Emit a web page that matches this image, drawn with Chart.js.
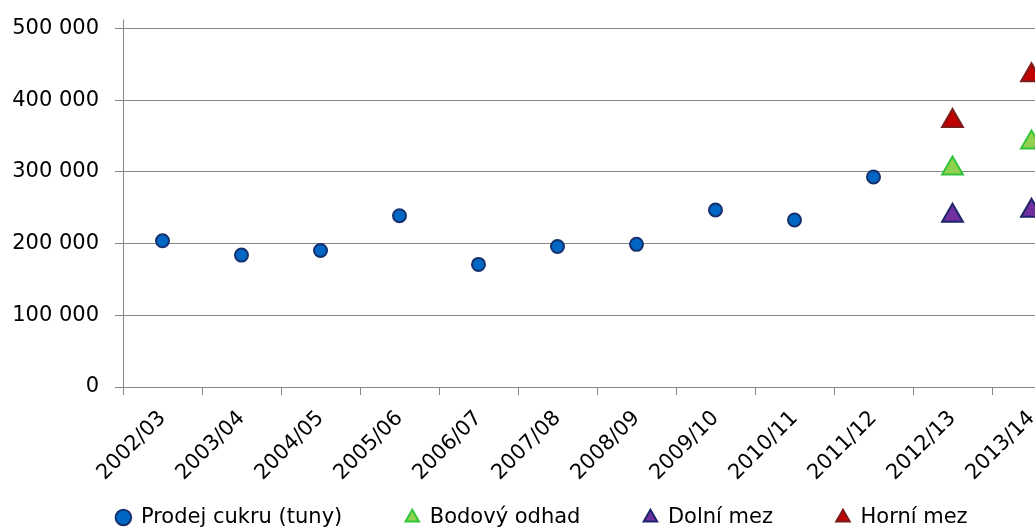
<!DOCTYPE html>
<html lang="cs">
<head>
<meta charset="utf-8">
<title>Prodej cukru</title>
<script src="https://cdn.jsdelivr.net/npm/chart.js@4.4.1/dist/chart.umd.min.js"></script>
<style>
  html, body { margin: 0; padding: 0; background: #fff; overflow: hidden; }
  #graf { display: block; }
</style>
</head>
<body>
<canvas id="graf" width="1087" height="538"></canvas>
<script>
// hospodářské roky
const roky = ['2002/03', '2003/04', '2004/05', '2005/06', '2006/07', '2007/08',
              '2008/09', '2009/10', '2010/11', '2011/12', '2012/13', '2013/14'];

// prodej cukru v tunách
const prodej = [204000, 184000, 190500, 239000, 171000, 196000,
                199000, 247000, 233000, 293000, null, null];

// odhad na dva roky dopředu
const bodovyOdhad = [null, null, null, null, null, null, null, null, null, null, 305000, 341000];
const dolniMez    = [null, null, null, null, null, null, null, null, null, null, 239000, 246000];
const horniMez    = [null, null, null, null, null, null, null, null, null, null, 371000, 435000];

const osaY = [0, 100000, 200000, 300000, 400000, 500000];

const pismo = { family: 'DejaVu Sans', size: 21 };
const mrizka = '#868686';

function tisice(v) {
  return String(v).replace(/\B(?=(\d{3})+(?!\d))/g, ' ');
}

// popisky osy x smí zasahovat až do prostoru legendy
const popiskyPodOsou = {
  id: 'popiskyPodOsou',
  afterLayout(chart) {
    chart.scales.x.bottom = chart.height;
  }
};

// osa y lehce přesahuje horní mřížku
const presahOsy = {
  id: 'presahOsy',
  afterDraw(chart) {
    const { ctx, chartArea } = chart;
    const x = Math.round(chartArea.left) + 0.5;
    ctx.save();
    ctx.strokeStyle = mrizka;
    ctx.lineWidth = 1;
    ctx.beginPath();
    ctx.moveTo(x, chartArea.top - 9);
    ctx.lineTo(x, chartArea.top);
    ctx.stroke();
    ctx.restore();
  }
};

const ctx = document.getElementById('graf');

new Chart(ctx, {
  type: 'line',
  data: {
    labels: roky,
    datasets: [
      {
        label: 'Prodej cukru (tuny)',
        data: prodej,
        showLine: false,
        pointStyle: 'circle',
        pointRadius: 6.5,
        pointBorderWidth: 2,
        pointBackgroundColor: '#0068c4',
        pointBorderColor: '#16306e'
      },
      {
        label: 'Bodový odhad',
        data: bodovyOdhad,
        showLine: false,
        pointStyle: 'triangle',
        pointRadius: 12,
        pointBorderWidth: 2,
        pointBackgroundColor: '#92d050',
        pointBorderColor: '#33c43a'
      },
      {
        label: 'Dolní mez',
        data: dolniMez,
        showLine: false,
        pointStyle: 'triangle',
        pointRadius: 12,
        pointBorderWidth: 2,
        pointBackgroundColor: '#7030a0',
        pointBorderColor: '#1c246a'
      },
      {
        label: 'Horní mez',
        data: horniMez,
        showLine: false,
        pointStyle: 'triangle',
        pointRadius: 12,
        pointBorderWidth: 2,
        pointBackgroundColor: '#c00000',
        pointBorderColor: '#7c1d1d'
      }
    ]
  },
  plugins: [popiskyPodOsou, presahOsy],
  options: {
    responsive: false,
    animation: false,
    layout: {
      padding: { top: 25, left: 13, right: 16, bottom: 0 }
    },
    plugins: {
      tooltip: { enabled: false },
      legend: {
        position: 'bottom',
        labels: {
          usePointStyle: true,
          boxWidth: 14,
          boxHeight: 11,
          padding: 63,
          color: '#000',
          font: pismo
        }
      }
    },
    scales: {
      x: {
        offset: true,
        grid: {
          offset: true,
          drawOnChartArea: false,
          color: mrizka,
          tickLength: 8
        },
        border: { color: mrizka },
        ticks: {
          autoSkip: false,
          minRotation: 45,
          maxRotation: 45,
          padding: 11,
          color: '#000',
          font: pismo
        },
        afterFit: (scale) => { scale.height = 57; }
      },
      y: {
        min: 0,
        max: 500000,
        afterBuildTicks: (scale) => { scale.ticks = osaY.map(v => ({ value: v })); },
        grid: {
          color: mrizka,
          tickLength: 8
        },
        border: { color: mrizka },
        ticks: {
          padding: 16,
          color: '#000',
          font: pismo,
          callback: (v) => tisice(v)
        },
        afterFit: (scale) => { scale.width = 110; }
      }
    }
  }
});
</script>
</body>
</html>
